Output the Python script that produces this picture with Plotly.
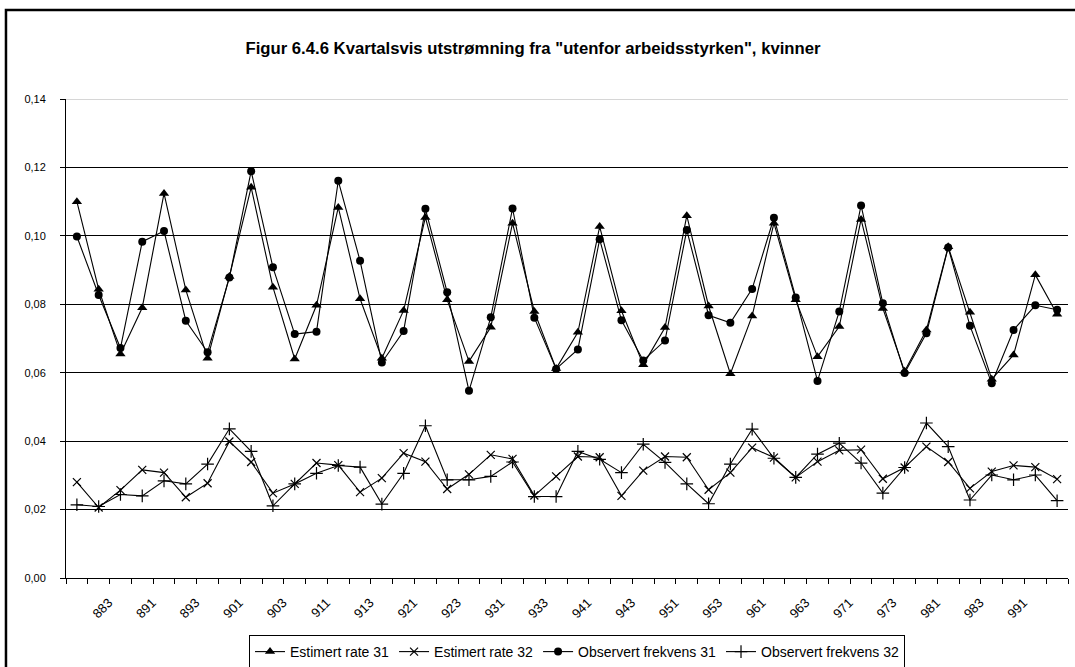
import plotly.graph_objects as go

# Quarters 882 .. 993 (year yy, quarter q -> "yyq")
categories = ["882", "883", "884"] + [f"{y}{q}" for y in range(89, 99) for q in range(1, 5)] + ["991", "992", "993"]

est_rate_31 = [0.1100, 0.0844, 0.0655, 0.0790, 0.1124, 0.0842, 0.0642, 0.0881, 0.1142, 0.0850,
               0.0640, 0.0797, 0.1083, 0.0816, 0.0642, 0.0782, 0.1054, 0.0813, 0.0633, 0.0733,
               0.1037, 0.0779, 0.0612, 0.0718, 0.1027, 0.0781, 0.0623, 0.0732, 0.1059, 0.0795,
               0.0597, 0.0766, 0.1037, 0.0813, 0.0647, 0.0735, 0.1048, 0.0788, 0.0604, 0.0725,
               0.0968, 0.0777, 0.0581, 0.0652, 0.0886, 0.0771]
est_rate_32 = [0.0280, 0.0206, 0.0257, 0.0316, 0.0308, 0.0236, 0.0277, 0.0399, 0.0339, 0.0248,
               0.0275, 0.0336, 0.0330, 0.0251, 0.0292, 0.0365, 0.0340, 0.0260, 0.0303, 0.0360,
               0.0348, 0.0241, 0.0297, 0.0355, 0.0353, 0.0240, 0.0314, 0.0355, 0.0353, 0.0258,
               0.0308, 0.0381, 0.0352, 0.0294, 0.0340, 0.0373, 0.0375, 0.0290, 0.0323, 0.0384,
               0.0339, 0.0262, 0.0311, 0.0329, 0.0324, 0.0289]
obs_freq_31 = [0.0998, 0.0827, 0.0672, 0.0983, 0.1014, 0.0752, 0.0660, 0.0878, 0.1189, 0.0908,
               0.0713, 0.0720, 0.1161, 0.0927, 0.0630, 0.0722, 0.1079, 0.0835, 0.0547, 0.0762,
               0.1080, 0.0761, 0.0611, 0.0668, 0.0990, 0.0753, 0.0636, 0.0694, 0.1017, 0.0768,
               0.0746, 0.0845, 0.1053, 0.0820, 0.0576, 0.0779, 0.1089, 0.0803, 0.0599, 0.0715,
               0.0966, 0.0737, 0.0569, 0.0725, 0.0797, 0.0784]
obs_freq_32 = [0.0214, 0.0209, 0.0244, 0.0240, 0.0284, 0.0275, 0.0333, 0.0436, 0.0370, 0.0211,
               0.0275, 0.0306, 0.0329, 0.0324, 0.0216, 0.0306, 0.0445, 0.0287, 0.0287, 0.0297,
               0.0339, 0.0238, 0.0238, 0.0370, 0.0347, 0.0308, 0.0391, 0.0338, 0.0275, 0.0217,
               0.0333, 0.0435, 0.0350, 0.0294, 0.0362, 0.0394, 0.0336, 0.0248, 0.0323, 0.0453,
               0.0384, 0.0228, 0.0301, 0.0287, 0.0301, 0.0226]

# every other quarter is labelled (883, 891, ..., 991)
tick_labels = [c if (i % 2 == 1 and i < len(categories) - 1) else "" for i, c in enumerate(categories)]

FONT = "Liberation Sans, Arial, sans-serif"

fig = go.Figure()
series = [
    ("Estimert rate 31", est_rate_31, dict(symbol="triangle-up", size=9, color="black")),
    ("Estimert rate 32", est_rate_32, dict(symbol="x-thin", size=8, color="black", line=dict(color="black", width=1.2))),
    ("Observert frekvens 31", obs_freq_31, dict(symbol="circle", size=8, color="black")),
    ("Observert frekvens 32", obs_freq_32, dict(symbol="cross-thin", size=9, color="black", line=dict(color="black", width=1.2))),
]
for name, vals, mk in series:
    fig.add_trace(go.Scatter(x=categories, y=vals, name=name, mode="lines+markers",
                             line=dict(color="black", width=1.1), marker=mk))

fig.update_layout(
    width=1075, height=667,
    margin=dict(l=66, r=7, t=99, b=89),
    paper_bgcolor="white", plot_bgcolor="white",
    separators=", ",
    font=dict(family=FONT, size=12, color="black"),
    title=dict(text='<b>Figur 6.4.6 Kvartalsvis utstrømning fra "utenfor arbeidsstyrken", kvinner</b>',
               x=533 / 1075, xref="container", xanchor="center",
               y=1 - 48 / 667, yref="container", yanchor="middle",
               font=dict(family=FONT, size=16.7, color="black")),
    legend=dict(orientation="h", x=0.51, xanchor="center",
                y=1 - 635 / 667, yref="container", yanchor="top",
                bordercolor="black", borderwidth=1, font=dict(family=FONT, size=14),
                bgcolor="white"),
    xaxis=dict(type="category", range=[-0.5, len(categories) - 0.5], automargin=False,
               tickmode="array", tickvals=categories, ticktext=tick_labels,
               tickson="boundaries", ticks="outside", ticklen=5, tickcolor="black",
               tickangle=-45, ticklabelstandoff=11, ticklabelshift=10,
               showline=True, linecolor="black", linewidth=1,
               showgrid=False, zeroline=False, tickfont=dict(size=13)),
    yaxis=dict(range=[0, 0.14], dtick=0.02, tickformat=".2f", automargin=False,
               ticks="outside", ticklen=5, tickcolor="black", ticklabelstandoff=12,
               showline=True, linecolor="black", linewidth=1,
               showgrid=True, gridcolor="black", gridwidth=1, zeroline=False,
               tickfont=dict(size=11)),
    shapes=[dict(type="rect", xref="paper", yref="paper",
                 x0=-0.0599, x1=1.03, y0=-0.25, y1=1.1858,
                 line=dict(color="black", width=2.5)),
            dict(type="line", xref="paper", yref="y", x0=0, x1=1, y0=0.14, y1=0.14,
                 line=dict(color="#c8c8c8", width=1.5))],
)

fig.write_html("out.html", config={"displayModeBar": False},
               post_script="document.body.style.margin='0';")
